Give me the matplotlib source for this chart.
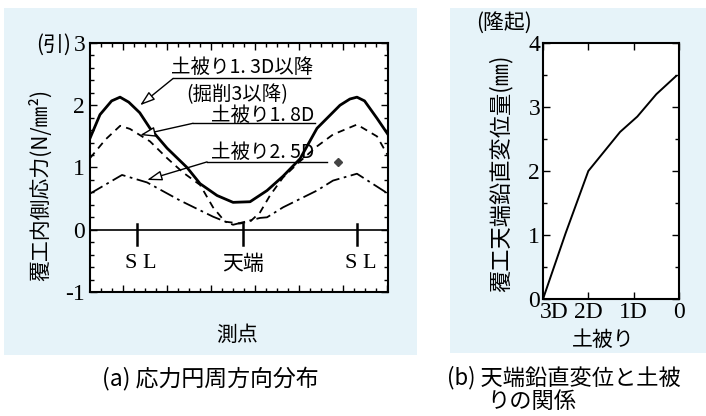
import numpy as np
import matplotlib
matplotlib.use("Agg")
import matplotlib.pyplot as plt
from matplotlib.patches import Rectangle
from matplotlib.ticker import FixedLocator, MultipleLocator
from matplotlib.transforms import ScaledTranslation

JP = ['Noto Sans CJK JP', 'DejaVu Sans']
SERIF = ['Liberation Serif', 'DejaVu Serif']
BG = '#e6f3f9'

# (a) stress along the lining, x = angle from crown (deg)
solid_x = [-127.7, -119.5, -110, -103.1, -96, -87, -78.6, -64.6, -48.3, -37.6, -23.7, -10.6,
           3.3, 17.2, 30.3, 44.2, 58.1, 76.9, 85, 90.8, 97, 107.2, 116.2]
solid_y = [1.47, 1.85, 2.07, 2.13, 2.05, 1.88, 1.63, 1.31, 1.0, 0.74, 0.55, 0.44,
           0.45, 0.63, 0.86, 1.14, 1.63, 2.0, 2.1, 2.13, 2.07, 1.79, 1.53]
dash_x = [-127.7, -115, -103, -95, -78.6, -64.6, -51.6, -37.6, -27, -17.2, -5, 3.3, 11.5,
          19.6, 30.3, 44.2, 58.1, 71.2, 90.8, 107.2, 116.2]
dash_y = [1.15, 1.45, 1.67, 1.62, 1.42, 1.15, 0.92, 0.72, 0.36, 0.13, 0.1, 0.13, 0.28,
          0.55, 0.84, 1.1, 1.34, 1.53, 1.69, 1.5, 1.19]
dd_x = [-127.7, -101.5, -81, -54, -27, -10.6, 11.5, 17.2, 30.3, 58.1, 71.2, 90.8, 116.2]
dd_y = [0.58, 0.88, 0.76, 0.47, 0.21, 0.08, 0.19, 0.2, 0.36, 0.63, 0.79, 0.9, 0.58]
mark_x = [-89.2, -2.5, 90.8]
mark_labels = ['S L', '天端', 'S L']

# (b) crown displacement vs cover
cover = [3.0, 2.5, 2.0, 1.3, 0.92, 0.5, 0.07]
disp = [0.0, 1.03, 2.0, 2.61, 2.85, 3.2, 3.48]
cover_ticks = [3, 2, 1, 0]
cover_labels = ['3D', '2D', '1D', '0']

W, H = 706, 416
fig = plt.figure(figsize=(W / 100, H / 100), dpi=100)


def fx(px):
    return px / W


def fy(py):
    return 1 - py / H


fig.patches.append(Rectangle((fx(4), fy(355)), fx(413), 347 / H, transform=fig.transFigure,
                             fc=BG, ec='none', zorder=-10))
fig.patches.append(Rectangle((fx(450), fy(353)), fx(256), 345 / H, transform=fig.transFigure,
                             fc=BG, ec='none', zorder=-10))

# ---------- (a)
ax = fig.add_axes([fx(90), fy(292), fx(298), 249 / H])
ax.set_xlim(-127.7, 116.2)
ax.set_ylim(-1, 3)
ax.plot(solid_x, solid_y, color='k', lw=2.0)
ax.plot(dash_x, dash_y, color='k', lw=1.3, dashes=(4, 3))
ax.plot(dd_x, dd_y, color='k', lw=1.3, dashes=(8, 2.5, 1.5, 2.5))
ax.axhline(0, color='k', lw=1.2)
for xm, lab in zip(mark_x, mark_labels):
    ax.plot([xm, xm], [0.1, -0.24], color='k', lw=1.8)
    ax.text(xm + (3 if lab == 'S L' else 0), -0.55, lab, ha='center', va='center',
            fontsize=15 if lab == '天端' else 16,
            family=JP if lab == '天端' else SERIF)

ax.yaxis.set_major_locator(MultipleLocator(1))
ax.yaxis.set_minor_locator(MultipleLocator(0.2))
ax.xaxis.set_major_locator(FixedLocator(np.arange(-100.7, 117, 36)))
ax.xaxis.set_minor_locator(FixedLocator(np.arange(-118.7, 117, 9)))
ax.tick_params(which='both', direction='in', top=True, right=True, width=1)
ax.tick_params(which='major', length=5, labelsize=17)
ax.tick_params(which='minor', length=3)
ax.set_xticklabels([])
ax.set_yticks([-1, 0, 1, 2, 3])
ax.set_yticklabels(['-1', '0', '1', '2', '3'])
for t in ax.get_yticklabels():
    t.set_family(SERIF)
for s in ax.spines.values():
    s.set_linewidth(1.5)

ann = [
    ('土被り1. 3D以降', -3.3, 2.61, -59.7, 52.4, 2.43, -86.7, 2.0),
    ('土被り1. 8D', 13.9, 1.84, -43.4, 56.5, 1.71, -86.7, 1.52),
    ('土被り2. 5D', 13.9, 1.24, -31.9, 66.3, 1.09, -81.0, 0.8),
]
for txt, tx, ty, x0, x1, uy, axx, ayy in ann:
    ax.text(tx, ty, txt, ha='center', va='center', fontsize=14, family=JP)
    ax.plot([x0, x1], [uy, uy], color='k', lw=1.0)
    ax.annotate('', xy=(axx, ayy), xytext=(x0, uy),
                arrowprops=dict(arrowstyle='-|>,head_length=0.9,head_width=0.3',
                                fc='white', ec='k', lw=1.0, shrinkA=0, shrinkB=0))
ax.text(-7.4, 2.17, '(掘削3以降)', ha='center', va='center', fontsize=14, family=JP)
ax.plot([75.3], [1.09], marker='D', ms=4, color='#444444')

fig.text(fx(71), fy(45), '(引)', ha='right', va='center', fontsize=15, family=JP)
fig.text(fx(40), fy(185), '覆工内側応力(N/㎜²)', rotation=90, ha='center', va='center',
         fontsize=15, family=JP)
fig.text(fx(237), fy(335), '測点', ha='center', va='center', fontsize=15, family=JP)
fig.text(fx(210), fy(378), '(a) 応力円周方向分布', ha='center', va='center',
         fontsize=16.5, family=JP)

# ---------- (b)
bx = fig.add_axes([fx(543), fy(299), fx(136), 256 / H])
bx.plot(cover, disp, color='k', lw=1.4)
bx.set_xlim(3, 0)
bx.set_ylim(0, 4)
bx.set_xticks(cover_ticks)
bx.set_xticklabels(cover_labels)
bx.yaxis.set_major_locator(MultipleLocator(1))
bx.yaxis.set_minor_locator(MultipleLocator(0.5))
bx.tick_params(which='both', direction='in', top=True, right=True, width=1)
bx.tick_params(which='major', length=5, labelsize=17, pad=2)
bx.tick_params(which='minor', length=3)
for t in bx.get_xticklabels() + bx.get_yticklabels():
    t.set_family(SERIF)
for s in bx.spines.values():
    s.set_linewidth(1.5)
fig.canvas.draw()
first_x = bx.get_xticklabels()[0]
first_x.set_ha('left')
first_x.set_transform(first_x.get_transform() + ScaledTranslation(-3 / 100, 0, fig.dpi_scale_trans))
zero_y = bx.get_yticklabels()[0]
zero_y.set_va('bottom')
zero_y.set_transform(zero_y.get_transform() + ScaledTranslation(0, -2 / 100, fig.dpi_scale_trans))

fig.text(fx(504), fy(23), '(隆起)', ha='center', va='center', fontsize=15, family=JP)
fig.text(fx(501), fy(173), '覆工天端鉛直変位量(㎜)', rotation=90, ha='center', va='center',
         fontsize=16, family=JP)
fig.text(fx(603), fy(340), '土被り', ha='center', va='center', fontsize=15, family=JP)
fig.text(fx(447), fy(378), '(b) 天端鉛直変位と土被', ha='left', va='center',
         fontsize=16, family=JP)
fig.text(fx(487), fy(401), 'りの関係', ha='left', va='center', fontsize=16, family=JP)

fig.savefig('out.png', dpi=100, facecolor='white')
